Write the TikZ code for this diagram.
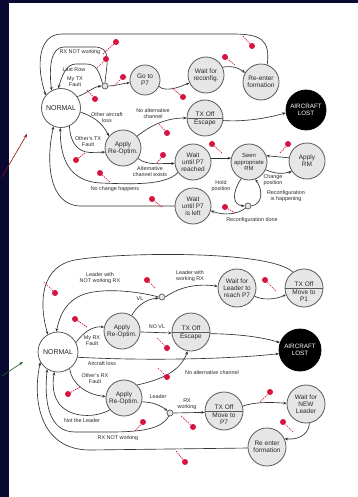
\documentclass[tikz,border=0pt]{standalone}
\usepackage{fontspec}
\setmainfont{Liberation Sans}
\usetikzlibrary{arrows.meta}
\definecolor{navy}{RGB}{8,8,48}
\definecolor{edgec}{RGB}{50,50,50}
\definecolor{nodeline}{RGB}{90,90,90}
\definecolor{nodefill}{RGB}{230,230,230}
\definecolor{mkred}{RGB}{215,20,65}
\definecolor{txtc}{RGB}{40,40,40}
\definecolor{pointred}{RGB}{150,20,20}
\definecolor{pointgreen}{RGB}{25,90,40}

\tikzset{
  st/.style={circle, draw=nodeline, fill=nodefill, line width=0.8pt, minimum size=36pt,
    inner sep=0pt, align=center, font=\fontsize{6.5}{7.2}\selectfont, text=txtc},
  normalst/.style={st, fill=white, minimum size=39pt, font=\fontsize{7}{7.5}\selectfont},
  lost/.style={st, fill=black, draw=black, text=white, minimum size=40pt, font=\fontsize{6.3}{7.3}\selectfont},
  jn/.style={circle, draw=nodeline, fill=nodefill, line width=0.7pt, minimum size=6pt, inner sep=0pt},
  lbl/.style={align=center, font=\fontsize{5.4}{6}\selectfont, text=txtc, inner sep=0.5pt},
  half/.style={font=\fontsize{6.5}{7.2}\selectfont, text=txtc, inner sep=1.5pt, align=center},
  splitline/.style={draw=nodeline, line width=0.7pt},
  tr/.style={draw=edgec, line width=0.65pt, -{Stealth[length=3.4pt,width=2.8pt]}},
  mkline/.style={draw=mkred, line width=0.7pt, dash pattern=on 1.4pt off 0.9pt},
  mkdot/.style={fill=mkred},
  pointer/.style={line width=0.6pt, -{Stealth[length=4pt,width=3pt]}},
}
% red event marker: dot at #1, dashed tail ending at #2
\newcommand\rmark[2]{\draw[mkline] #2 -- #1; \fill[mkdot] #1 circle[radius=3pt];}

\begin{document}
\begin{tikzpicture}[x=1pt,y=-1pt]
\fill[navy] (0,0) rectangle (358,497);
\fill[white] (9,3) rectangle (358,497);
\useasboundingbox (0,0) rectangle (358,497);

% ---------------- upper chart ----------------
\node[normalst] (n1) at (61,108) {NORMAL};
\node[jn] (j1) at (105,86) {};
\node[st, minimum size=30pt] (go) at (145,80) {Go to\\P7};
\node[st] (wr) at (206,75) {Wait for\\reconfig.};
\node[st] (re) at (261,82) {Re-enter\\formation};
\node[st] (tx1) at (205,118) {};
\draw[splitline] (tx1.west) -- (tx1.east);
\node[half, anchor=south] (tx1a) at (tx1.center) {TX Off};
\node[half, anchor=north] (tx1b) at (tx1.center) {Escape};
\node[lost] (al1) at (306,110) {AIRCRAFT\\LOST};
\node[st] (ap1) at (123,148) {Apply\\Re-Optim.};
\node[st] (wp) at (193,162) {Wait\\until P7\\reached};
\node[st, font=\fontsize{5.9}{6.7}\selectfont] (rm) at (249,162) {Seen\\appropriate\\RM};
\node[st] (arm) at (307,161) {Apply\\RM};
\node[jn] (j2) at (248,206) {};
\node[st] (wl) at (193,206) {Wait\\until P7\\is left};

\draw[tr] (re.70) .. controls (270,40) and (262,34) .. (232,34) -- (62,34) .. controls (38,34) and (36,66) .. (n1.140);
\draw[tr] (j1.north) .. controls (107,62) and (112,47) .. (94,47) -- (64,47) .. controls (50,47) and (49,70) .. (n1.118);
\draw[tr] (j1.135) .. controls (99,72) and (97,64) .. (86,64) -- (76,64) .. controls (66,64) and (62,76) .. (n1.98);
\draw[tr] (n1.35) .. controls (86,94) and (93,87) .. (j1.west);
\draw[tr] (j1.east) .. controls (115,86) and (120,84) .. (go.190);
\draw[tr] (go.-25) .. controls (165,92) and (178,88) .. (wr.205);
\draw[tr] (wr.25) .. controls (228,66) and (236,66) .. (re.150);
\draw[tr] (n1.-12) .. controls (92,116) and (102,122) .. (ap1.140);
\draw[tr] (n1.-65) .. controls (70,140) and (76,152) .. (90,152.5) -- (ap1.193);
\draw[tr] (ap1.40) .. controls (150,126) and (165,118) .. (tx1.west);
\draw[tr] (tx1.-8) .. controls (245,122) and (268,118) .. (al1.188);
\draw[tr] (ap1.-35) .. controls (148,166) and (160,163) .. (wp.185);
\draw[tr] (wp.215) .. controls (165,186) and (130,184) .. (100,183) .. controls (70,181) and (60,160) .. (n1.-92);
\draw[tr] (wl.west) -- (80,206) .. controls (48,205) and (46,160) .. (n1.-112);
\draw[tr] (wp.12) -- (rm.168);
\draw[tr] (arm.170) -- (rm.20);
\draw[tr] (rm.-25) .. controls (275,174) and (283,174) .. (arm.215);
\draw[tr] (rm.-115) .. controls (232,192) and (232,205) .. (j2.west);
\draw[tr] (j2.east) .. controls (263,204) and (263,190) .. (rm.-70);
\draw[tr] (j2.-140) .. controls (238,214) and (225,216) .. (wl.-15);

\node[lbl] (l1) at (80,52.5) {RX NOT working};
\node[lbl] (l2) at (74,70) {Last Row};
\node[lbl] (l3) at (75,82) {My TX\\Fault};
\node[lbl] (l4) at (107,118) {Other aircraft\\loss};
\node[lbl] (l5) at (153,114) {No alternative\\channel};
\node[lbl] (l6) at (88,142) {Other's TX\\Fault};
\node[lbl] (l7) at (150,172) {Alternative\\channel exists};
\node[lbl] (l8) at (115,189) {No change happens};
\node[lbl] (l9) at (221,186) {Hold\\position};
\node[lbl] (l10) at (273,180) {Change\\position};
\node[lbl] (l11) at (286,196) {Reconfiguration\\is happening};
\node[lbl] (l12) at (252,220) {Reconfiguration done};

\rmark{(116,42)}{(103,54)}
\rmark{(106,59)}{(97,68)}
\rmark{(95,99)}{(87,90)}
\rmark{(123,77)}{(114,86)}
\rmark{(183,97)}{(172,88)}
\rmark{(225,57)}{(235,65)}
\rmark{(252,46)}{(243,36)}
\rmark{(167,133)}{(159,124)}
\rmark{(76,160)}{(85,153)}
\rmark{(163,155)}{(157,163)}
\rmark{(100,173)}{(110,182)}
\rmark{(212,144)}{(222,153)}
\rmark{(288,144)}{(280,153)}
\rmark{(225,207)}{(235,213)}
\rmark{(152,199)}{(162,207)}

% ---------------- lower chart ----------------
\node[normalst, minimum size=40pt] (n2) at (58,352) {NORMAL};
\node[st] (ap2) at (122,331) {Apply\\Re-Optim.};
\node[jn] (j3) at (162,297) {};
\node[st, minimum size=38pt] (wfl) at (237,288) {Wait for\\Leader to\\reach P7};
\node[st, minimum size=38pt] (mp1) at (304,288) {};
\draw[splitline] (mp1.west) -- (mp1.east);
\node[half, anchor=south] (mp1a) at (mp1.center) {TX Off};
\node[half, anchor=north] (mp1b) at (mp1.center) {Move to\\P1};
\node[st, minimum size=38pt] (esc) at (191,332) {};
\draw[splitline] (esc.west) -- (esc.east);
\node[half, anchor=south] (esca) at (esc.center) {TX Off};
\node[half, anchor=north] (escb) at (esc.center) {Escape};
\node[lost, minimum size=42pt] (al2) at (300,350) {AIRCRAFT\\LOST};
\node[st] (ap3) at (124,398) {Apply\\Re-Optim.};
\node[jn] (j4) at (170,413) {};
\node[st, minimum size=38pt] (mp7) at (224,411) {};
\draw[splitline] (mp7.west) -- (mp7.east);
\node[half, anchor=south] (mp7a) at (mp7.center) {TX Off};
\node[half, anchor=north] (mp7b) at (mp7.center) {Move to\\P7};
\node[st, minimum size=38pt] (wnl) at (306,404) {Wait for\\NEW\\Leader};
\node[st, minimum size=38pt] (ref) at (267,447) {Re enter\\formation};

\draw[tr] (mp1.125) .. controls (270,250) and (120,252) .. (75,260) .. controls (42,266) and (38,300) .. (n2.120);
\draw[tr] (j3.west) .. controls (140,292) and (110,288) .. (88,293) .. controls (66,299) and (60,315) .. (n2.95);
\draw[tr] (ap2.58) .. controls (137,306) and (146,299) .. (j3.200);
\draw[tr] (j3.east) .. controls (178,288) and (195,283) .. (wfl.175);
\draw[tr] (wfl.-25) .. controls (262,300) and (275,300) .. (mp1.200);
\draw[tr] (n2.28) .. controls (85,330) and (95,326) .. (ap2.168);
\draw[tr] (ap2.-3) -- (esc.183);
\draw[tr] (esc.-5) .. controls (238,334) and (262,337) .. (al2.160);
\draw[tr] (n2.-15) .. controls (150,361) and (230,359) .. (al2.190);
\draw[tr] (ap3.45) .. controls (160,380) and (180,372) .. (esc.-100);
\draw[tr] (n2.-55) .. controls (72,385) and (88,395) .. (ap3.175);
\draw[tr] (ap3.-12) .. controls (152,402) and (160,405) .. (j4.140);
\draw[tr] (ap3.-140) .. controls (95,418) and (72,418) .. (60,405) .. controls (53,396) and (52,385) .. (n2.-100);
\draw[tr] (j4.east) -- (mp7.184);
\draw[tr] (j4.-110) .. controls (162,428) and (145,432) .. (110,432) -- (75,432) .. controls (48,432) and (44,400) .. (n2.-122);
\draw[tr] (mp7.15) .. controls (255,402) and (270,402) .. (wnl.178);
\draw[tr] (wnl.-80) .. controls (309,432) and (302,440) .. (ref.25);
\draw[tr] (ref.183) -- (90,450) .. controls (40,450) and (32,400) .. (n2.-150);

\node[lbl] (m1) at (100,278) {Leader with\\NOT working RX};
\node[lbl] (m2) at (190,276) {Leader with\\working RX};
\node[lbl] (m3) at (140,299) {VL};
\node[lbl] (m4) at (92,341) {My RX\\Fault};
\node[lbl] (m5) at (157,327) {NO VL};
\node[lbl] (m6) at (102,364) {Aircraft loss};
\node[lbl] (m7) at (212,373) {No alternative channel};
\node[lbl] (m8) at (95,379) {Other's RX\\Fault};
\node[lbl] (m9) at (158,397) {Leader};
\node[lbl] (m10) at (187,404) {RX\\working};
\node[lbl] (m11) at (82,421) {Not the Leader};
\node[lbl] (m12) at (118,438) {RX NOT working};

\rmark{(55,293)}{(44,282)}
\rmark{(147,280)}{(155,288)}
\rmark{(265,280)}{(276,291)}
\rmark{(75,319)}{(87,327)}
\rmark{(167,348)}{(157,338)}
\rmark{(167,377)}{(158,368)}
\rmark{(68,394)}{(80,387)}
\rmark{(143,422)}{(135,431)}
\rmark{(193,427)}{(181,416)}
\rmark{(270,392)}{(260,402)}
\rmark{(283,422)}{(293,432)}
\rmark{(185,462)}{(176,451)}

% ---------------- pointers from the slide margin ----------------
\coordinate (ra) at (2,177);
\coordinate (rb) at (27,134);
\draw[pointer, pointred] (ra) -- (rb);
\coordinate (ga) at (2,376);
\coordinate (gb) at (23,362);
\draw[pointer, pointgreen] (ga) -- (gb);
\end{tikzpicture}
\end{document}
